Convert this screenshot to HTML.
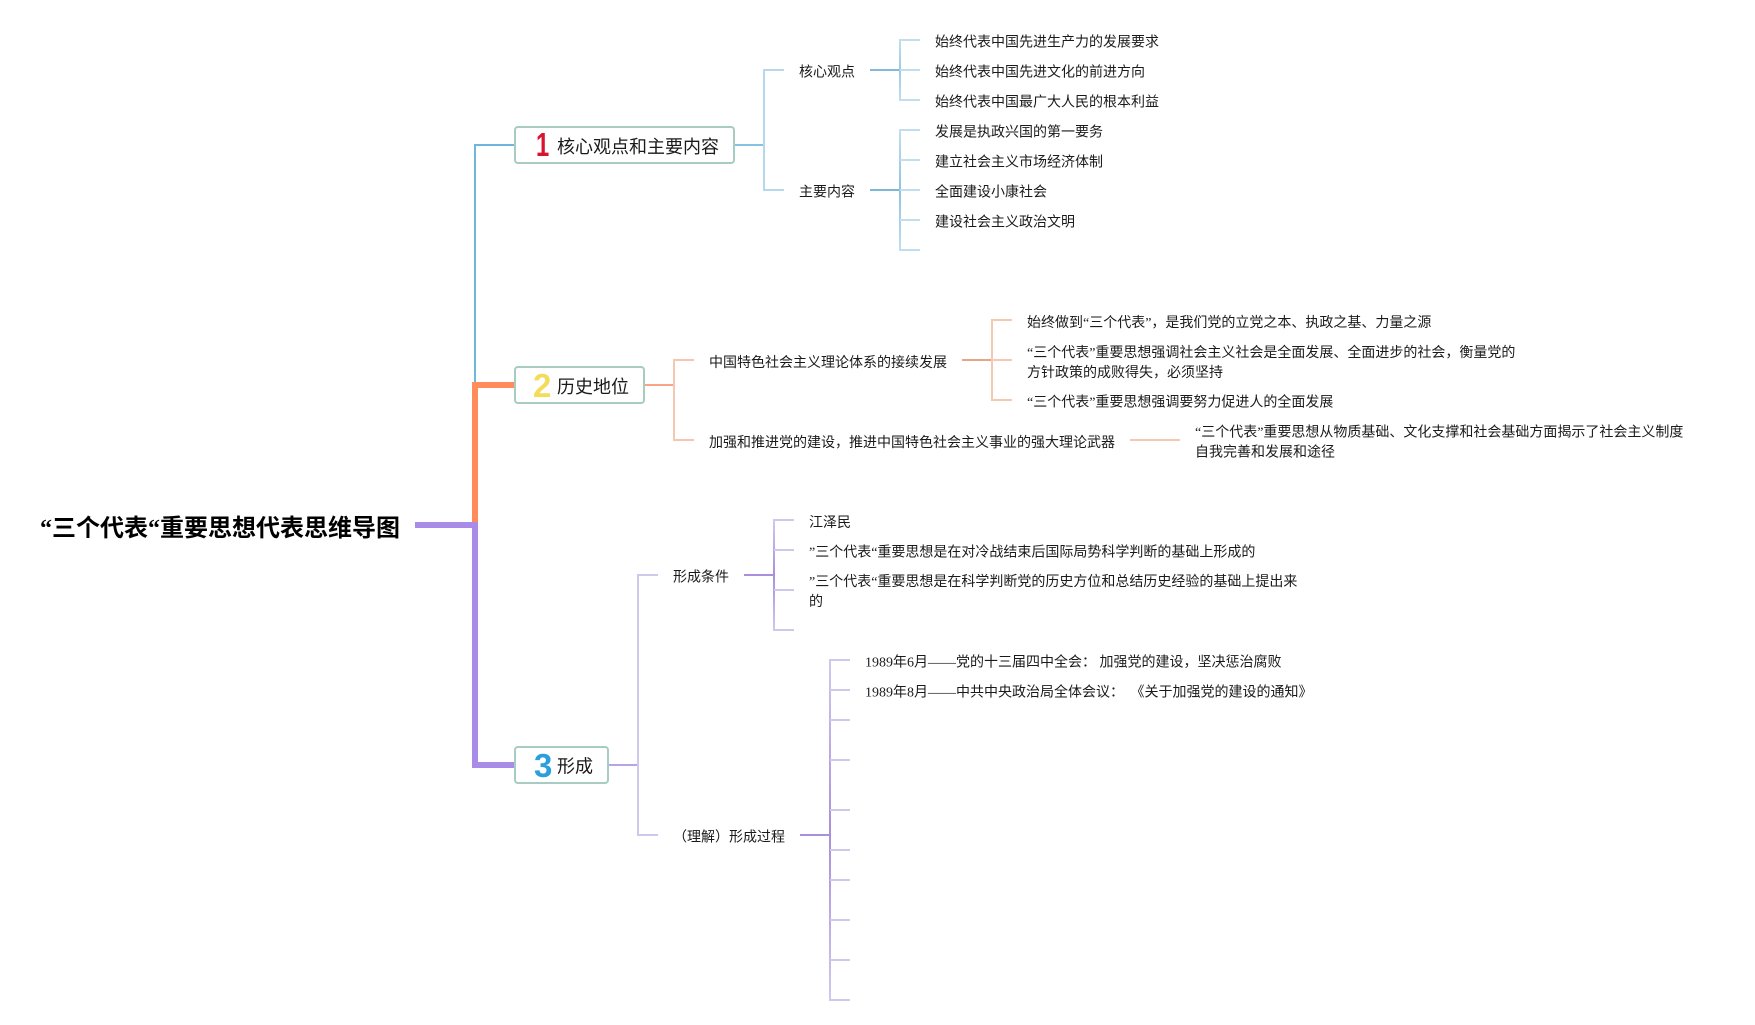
<!DOCTYPE html>
<html lang="zh"><head><meta charset="utf-8"><title>“三个代表“重要思想代表思维导图</title>
<style>
html,body{margin:0;padding:0;background:#fff;width:1755px;height:1025px;overflow:hidden}
svg{display:block;filter:blur(.3px)}
text{font-family:"Liberation Serif","Noto Sans CJK SC",sans-serif;font-size:14px;fill:#1a1a1a}
.t{font-family:"Liberation Sans","Noto Sans CJK SC",sans-serif;font-size:18px;fill:#1a1a1a}
.n{font-family:"Liberation Sans",sans-serif;font-size:33px;font-weight:700}
.b{fill:#fff;stroke:#a8cbc2;stroke-width:2}
path{fill:none}
</style></head><body>
<svg width="1755" height="1025" viewBox="0 0 1755 1025" xmlns="http://www.w3.org/2000/svg">
<defs>
<linearGradient id="g1" gradientUnits="userSpaceOnUse" x1="0" y1="40" x2="0" y2="100"><stop offset="0" stop-color="#c0deee"/><stop offset=".5" stop-color="#9ccbe2"/><stop offset="1" stop-color="#c0deee"/></linearGradient>
<linearGradient id="g2" gradientUnits="userSpaceOnUse" x1="0" y1="130" x2="0" y2="250"><stop offset="0" stop-color="#c0deee"/><stop offset=".5" stop-color="#8fc4df"/><stop offset="1" stop-color="#c0deee"/></linearGradient>
<linearGradient id="g3" gradientUnits="userSpaceOnUse" x1="0" y1="660" x2="0" y2="1000"><stop offset="0" stop-color="#d0c8ec"/><stop offset=".51" stop-color="#a98fdc"/><stop offset="1" stop-color="#d0c8ec"/></linearGradient>
<linearGradient id="g4" gradientUnits="userSpaceOnUse" x1="0" y1="520" x2="0" y2="630"><stop offset="0" stop-color="#d0c8ec"/><stop offset=".5" stop-color="#a98fdc"/><stop offset="1" stop-color="#d0c8ec"/></linearGradient>
</defs>

<!-- trunk -->
<path d="M475 385V145H515" stroke="#6fb5dc" stroke-width="2"/>
<path d="M475 528V385H515" stroke="#ff8c5a" stroke-width="6"/>
<path d="M415 525H475V765H515" stroke="#a98ce8" stroke-width="6"/>

<!-- branch 1 -->
<path d="M734 145H764" stroke="#86c2e4" stroke-width="2"/>
<path d="M784 70H764V190H784" stroke="#b7d8ec" stroke-width="2"/>
<path d="M870 70H900" stroke="#85b8da" stroke-width="2"/>
<path d="M920 40H900V100H920" stroke="url(#g1)" stroke-width="2"/>
<path d="M900 70H920" stroke="#c0deee" stroke-width="2"/>
<path d="M870 190H900" stroke="#7fb8d6" stroke-width="2"/>
<path d="M920 130H900V250H920" stroke="url(#g2)" stroke-width="2"/>
<path d="M900 160H920M900 190H920M900 220H920" stroke="#c0deee" stroke-width="2"/>

<!-- branch 2 -->
<path d="M644 385H674" stroke="#f9a488" stroke-width="2"/>
<path d="M694 360H674V440H694" stroke="#f6c6b2" stroke-width="2"/>
<path d="M962 360H992" stroke="#e6a585" stroke-width="2"/>
<path d="M992 360H1012M1012 320H992V400H1012" stroke="#f4c8b2" stroke-width="2"/>
<path d="M1130 440H1180" stroke="#f4c8b2" stroke-width="2"/>

<!-- branch 3 -->
<path d="M608 765H638" stroke="#b9a3e6" stroke-width="2"/>
<path d="M658 575H638V835H658" stroke="#d0c8ec" stroke-width="2"/>
<path d="M744 575H774" stroke="#a98fdc" stroke-width="2"/>
<path d="M794 520H774V630H794" stroke="url(#g4)" stroke-width="2"/>
<path d="M774 550H794M774 590H794" stroke="#d0c8ec" stroke-width="2"/>
<path d="M800 835H830" stroke="#a98fdc" stroke-width="2"/>
<path d="M850 660H830V1000H850" stroke="url(#g3)" stroke-width="2"/>
<path d="M830 690H850M830 720H850M830 760H850M830 810H850M830 850H850M830 880H850M830 920H850M830 960H850" stroke="#d0c8ec" stroke-width="2"/>

<!-- boxes -->
<rect class="b" x="515" y="127" width="219" height="36" rx="3"/>
<rect class="b" x="515" y="367" width="129" height="36" rx="3"/>
<rect class="b" x="515" y="747" width="93" height="36" rx="3"/>
<text class="n" transform="translate(536,156) scale(.72,1)" style="fill:#d9142f">1</text>
<text class="n" x="533" y="397" style="fill:#f2dc5a">2</text>
<text class="n" x="534" y="777" style="fill:#2a9fdc">3</text>
<text class="t" x="557" y="153">核心观点和主要内容</text>
<text class="t" x="557" y="393">历史地位</text>
<text class="t" x="557" y="772.5">形成</text>

<!-- title -->
<text x="40" y="536" style="font-size:24px;font-weight:700;fill:#000">“三个代表“重要思想代表思维导图</text>

<!-- level 2 -->
<text x="799" y="76.5">核心观点</text>
<text x="799" y="196.5">主要内容</text>
<text x="709" y="367">中国特色社会主义理论体系的接续发展</text>
<text x="709" y="447">加强和推进党的建设，推进中国特色社会主义事业的强大理论武器</text>
<text x="673" y="581.5">形成条件</text>
<text x="673" y="841.5">（理解）形成过程</text>

<!-- level 3 -->
<text x="935" y="46.7">始终代表中国先进生产力的发展要求</text>
<text x="935" y="76.7">始终代表中国先进文化的前进方向</text>
<text x="935" y="106.7">始终代表中国最广大人民的根本利益</text>
<text x="935" y="136.7">发展是执政兴国的第一要务</text>
<text x="935" y="166.7">建立社会主义市场经济体制</text>
<text x="935" y="196.7">全面建设小康社会</text>
<text x="935" y="226.7">建设社会主义政治文明</text>

<text x="1027" y="327">始终做到“三个代表”，是我们党的立党之本、执政之基、力量之源</text>
<text x="1027" y="357">“三个代表”重要思想强调社会主义社会是全面发展、全面进步的社会，衡量党的</text>
<text x="1027" y="377">方针政策的成败得失，必须坚持</text>
<text x="1027" y="406.5">“三个代表”重要思想强调要努力促进人的全面发展</text>
<text x="1195" y="436.5">“三个代表”重要思想从物质基础、文化支撑和社会基础方面揭示了社会主义制度</text>
<text x="1195" y="456.5">自我完善和发展和途径</text>

<text x="809" y="527">江泽民</text>
<text x="809" y="556.6">”三个代表“重要思想是在对冷战结束后国际局势科学判断的基础上形成的</text>
<text x="809" y="586">”三个代表“重要思想是在科学判断党的历史方位和总结历史经验的基础上提出来</text>
<text x="809" y="606">的</text>

<text x="865" y="666.5">1989年6月——党的十三届四中全会： 加强党的建设，坚决惩治腐败</text>
<text x="865" y="696.5">1989年8月——中共中央政治局全体会议： <tspan dx="3">《关于加强党的建设的通知》</tspan></text>
</svg>
</body></html>
